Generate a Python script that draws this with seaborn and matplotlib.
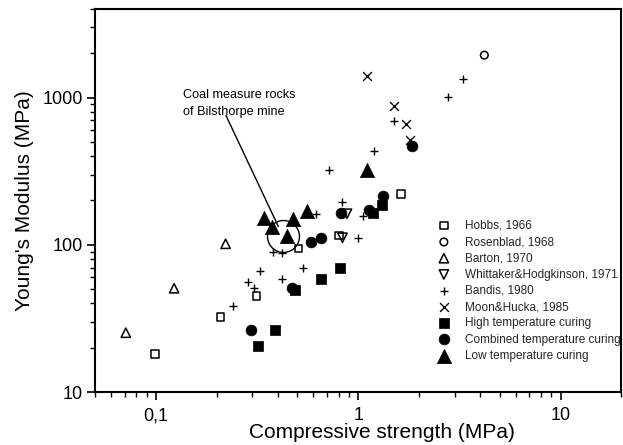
import numpy as np
import pandas as pd
import matplotlib
matplotlib.use("Agg")
import matplotlib.pyplot as plt
import seaborn as sns
from matplotlib.ticker import LogLocator, FixedLocator, FixedFormatter, NullFormatter

# ---- data: compressive strength (MPa) vs Young's modulus (MPa) ----
hobbs_x = [0.099, 0.209, 0.314, 0.506, 0.805, 1.63]
hobbs_y = [18.1, 32.4, 44.8, 94.4, 115.6, 221]

rosenblad_x = [4.2]
rosenblad_y = [1941]

barton_x = [0.071, 0.123, 0.221]
barton_y = [25.3, 50.7, 101.6]

whittaker_x = [0.836, 0.88]
whittaker_y = [111.7, 162.6]

bandis_x = [0.240, 0.285, 0.307, 0.327, 0.380, 0.419, 0.422, 0.536, 0.618,
            0.713, 0.836, 1.0, 1.06, 1.2, 1.51, 2.78, 3.3]
bandis_y = [38.5, 55.5, 50.7, 66.8, 90, 88, 59, 69.3, 162.6,
            324, 194, 111.7, 157, 436, 690, 1012, 1341]

moon_x = [1.10, 1.51, 1.72, 1.81]
moon_y = [1397, 873, 665, 518]

high_x = [0.321, 0.388, 0.488, 0.653, 0.812, 1.18, 1.31]
high_y = [20.6, 26.4, 49.4, 58.5, 69.8, 164, 187]

combined_x = [0.295, 0.47, 0.583, 0.656, 0.824, 1.13, 1.32, 1.84]
combined_y = [26.4, 50.5, 104.8, 112, 164, 171, 215, 466]

low_x = [0.343, 0.374, 0.447, 0.475, 0.557, 1.11]
low_y = [153, 133, 114, 150, 169, 324]

# highlighted cluster: Coal measure rocks of Bilsthorpe mine
cluster_x, cluster_y = 0.427, 114
note_text = "Coal measure rocks\nof Bilsthorpe mine"
note_xy = (0.136, 915)
leader_start = (0.222, 755)
leader_end = (0.403, 133)

x_ticks = [0.1, 1, 10]
x_ticklabels = ["0,1", "1", "10"]
y_ticks = [10, 100, 1000]
y_ticklabels = ["10", "100", "1000"]

series = [
    ("Hobbs, 1966", hobbs_x, hobbs_y, dict(marker="s", s=30, facecolor="none", edgecolor="black", linewidths=1.1)),
    ("Rosenblad, 1968", rosenblad_x, rosenblad_y, dict(marker="o", s=30, facecolor="none", edgecolor="black", linewidths=1.1)),
    ("Barton, 1970", barton_x, barton_y, dict(marker="^", s=45, facecolor="none", edgecolor="black", linewidths=1.1)),
    ("Whittaker&Hodgkinson, 1971", whittaker_x, whittaker_y, dict(marker="v", s=45, facecolor="none", edgecolor="black", linewidths=1.1)),
    ("Bandis, 1980", bandis_x, bandis_y, dict(marker="+", s=36, color="black", linewidths=1.0)),
    ("Moon&Hucka, 1985", moon_x, moon_y, dict(marker="x", s=40, color="black", linewidths=1.0)),
    ("High temperature curing", high_x, high_y, dict(marker="s", s=58, color="black", edgecolor="black", linewidths=0.5)),
    ("Combined temperature curing", combined_x, combined_y, dict(marker="o", s=60, color="black", edgecolor="black", linewidths=0.5)),
    ("Low temperature curing", low_x, low_y, dict(marker="^", s=105, color="black", edgecolor="black", linewidths=0.5)),
]

sns.set_theme(style="white")
plt.rcParams["font.family"] = ["Liberation Sans", "DejaVu Sans"]

fig = plt.figure(figsize=(6.23, 4.45), dpi=100)
ax = fig.add_axes([0.1525, 0.119, 0.845, 0.861])

for label, xs, ys, kw in series:
    df = pd.DataFrame({"x": xs, "y": ys})
    sns.scatterplot(data=df, x="x", y="y", ax=ax, label=label, zorder=3, **kw)

ax.set_xscale("log")
ax.set_yscale("log")
ax.set_xlim(0.05, 20)
ax.set_ylim(10, 4000)

# highlight ring and annotation
ax.plot([cluster_x], [cluster_y], marker="o", ms=23, mfc="none", mec="black", mew=1.0, zorder=4)
ax.annotate("", xy=leader_end, xytext=leader_start,
            arrowprops=dict(arrowstyle="-", lw=1.0, color="black", shrinkA=0, shrinkB=0))
ax.text(note_xy[0], note_xy[1], note_text, ha="left", va="center", fontsize=9.1,
        color="black", linespacing=1.6)

# axes and ticks
ax.xaxis.set_major_locator(FixedLocator(x_ticks))
ax.xaxis.set_major_formatter(FixedFormatter(x_ticklabels))
ax.yaxis.set_major_locator(FixedLocator(y_ticks))
ax.yaxis.set_major_formatter(FixedFormatter(y_ticklabels))
ax.xaxis.set_minor_locator(LogLocator(base=10, subs=np.arange(2, 10), numticks=20))
ax.yaxis.set_minor_locator(LogLocator(base=10, subs=np.arange(2, 10), numticks=20))
ax.xaxis.set_minor_formatter(NullFormatter())
ax.yaxis.set_minor_formatter(NullFormatter())
ax.tick_params(axis="both", which="major", direction="out", length=6, width=1.2,
               labelsize=13, colors="black", bottom=True, left=True, top=False, right=False, pad=3)
ax.tick_params(axis="x", which="major", pad=5)
ax.tick_params(axis="both", which="minor", direction="out", length=3.5, width=1.0,
               colors="black", bottom=True, left=True, top=False, right=False)
for sp in ax.spines.values():
    sp.set_color("black")
    sp.set_linewidth(1.5)

ax.set_xlabel("Compressive strength (MPa)", fontsize=15, color="black")
ax.set_ylabel("Young's Modulus (MPa)", fontsize=15, color="black", labelpad=6)
ax.xaxis.set_label_coords(0.545, -0.08)
ax.grid(False)

ax.legend(loc="upper left", bbox_to_anchor=(0.638, 0.465), frameon=False, fontsize=8.5,
          labelspacing=0.36, handletextpad=1.2, handlelength=1.2, borderpad=0.0,
          scatterpoints=1)

fig.savefig("out.png", dpi=100, facecolor="white")
